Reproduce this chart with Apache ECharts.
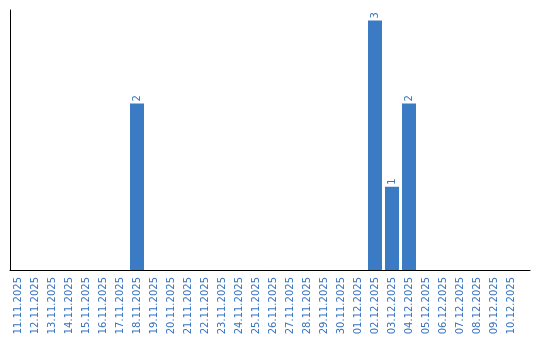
<!DOCTYPE html>
<html><head><meta charset="utf-8">
<script src="https://cdn.jsdelivr.net/npm/echarts@6/dist/echarts.min.js"></script>
<style>html,body{margin:0;padding:0;background:#fff}#c{width:540px;height:340px}</style>
</head><body><div id="c"></div>
<script>
var categories = ['11.11.2025','12.11.2025','13.11.2025','14.11.2025','15.11.2025','16.11.2025','17.11.2025','18.11.2025','19.11.2025','20.11.2025','21.11.2025','22.11.2025','23.11.2025','24.11.2025','25.11.2025','26.11.2025','27.11.2025','28.11.2025','29.11.2025','30.11.2025','01.12.2025','02.12.2025','03.12.2025','04.12.2025','05.12.2025','06.12.2025','07.12.2025','08.12.2025','09.12.2025','10.12.2025'];
var values = [0,0,0,0,0,0,0,2,0,0,0,0,0,0,0,0,0,0,0,0,0,3,1,2,0,0,0,0,0,0];
var yMax = 3.125;

var chart = echarts.init(document.getElementById('c'));
chart.setOption({
  animation: false,
  grid: [
    {left: 9.5, top: 10, width: 510, height: 260},
    {left: 10, top: 10, right: 10, height: 260}
  ],
  xAxis: [
    {type: 'category', gridIndex: 0, data: categories,
     axisLine: {show: false}, axisTick: {show: false},
     axisLabel: {interval: 0, rotate: 90, margin: 7, color: '#3673c0', fontFamily: 'DejaVu Sans', fontSize: 10}},
    {type: 'category', gridIndex: 1, data: [],
     axisLine: {show: true, lineStyle: {color: '#000', width: 1}}, axisTick: {show: false}, axisLabel: {show: false}}
  ],
  yAxis: [
    {type: 'value', gridIndex: 0, min: 0, max: yMax,
     axisLine: {show: false}, axisTick: {show: false}, axisLabel: {show: false}, splitLine: {show: false}},
    {type: 'value', gridIndex: 1, min: 0, max: yMax,
     axisLine: {show: true, lineStyle: {color: '#000', width: 1}}, axisTick: {show: false}, axisLabel: {show: false}, splitLine: {show: false}}
  ],
  series: [{
    type: 'bar', xAxisIndex: 0, yAxisIndex: 0, data: values, barWidth: 14,
    itemStyle: {color: '#3a7bc4'},
    label: {show: true, position: 'top', rotate: 90, distance: 2, align: 'left', verticalAlign: 'middle',
      color: '#3673c0', fontFamily: 'DejaVu Sans', fontSize: 10,
      formatter: function(p){ return p.value ? String(p.value) : ''; }}
  }]
});
</script></body></html>
